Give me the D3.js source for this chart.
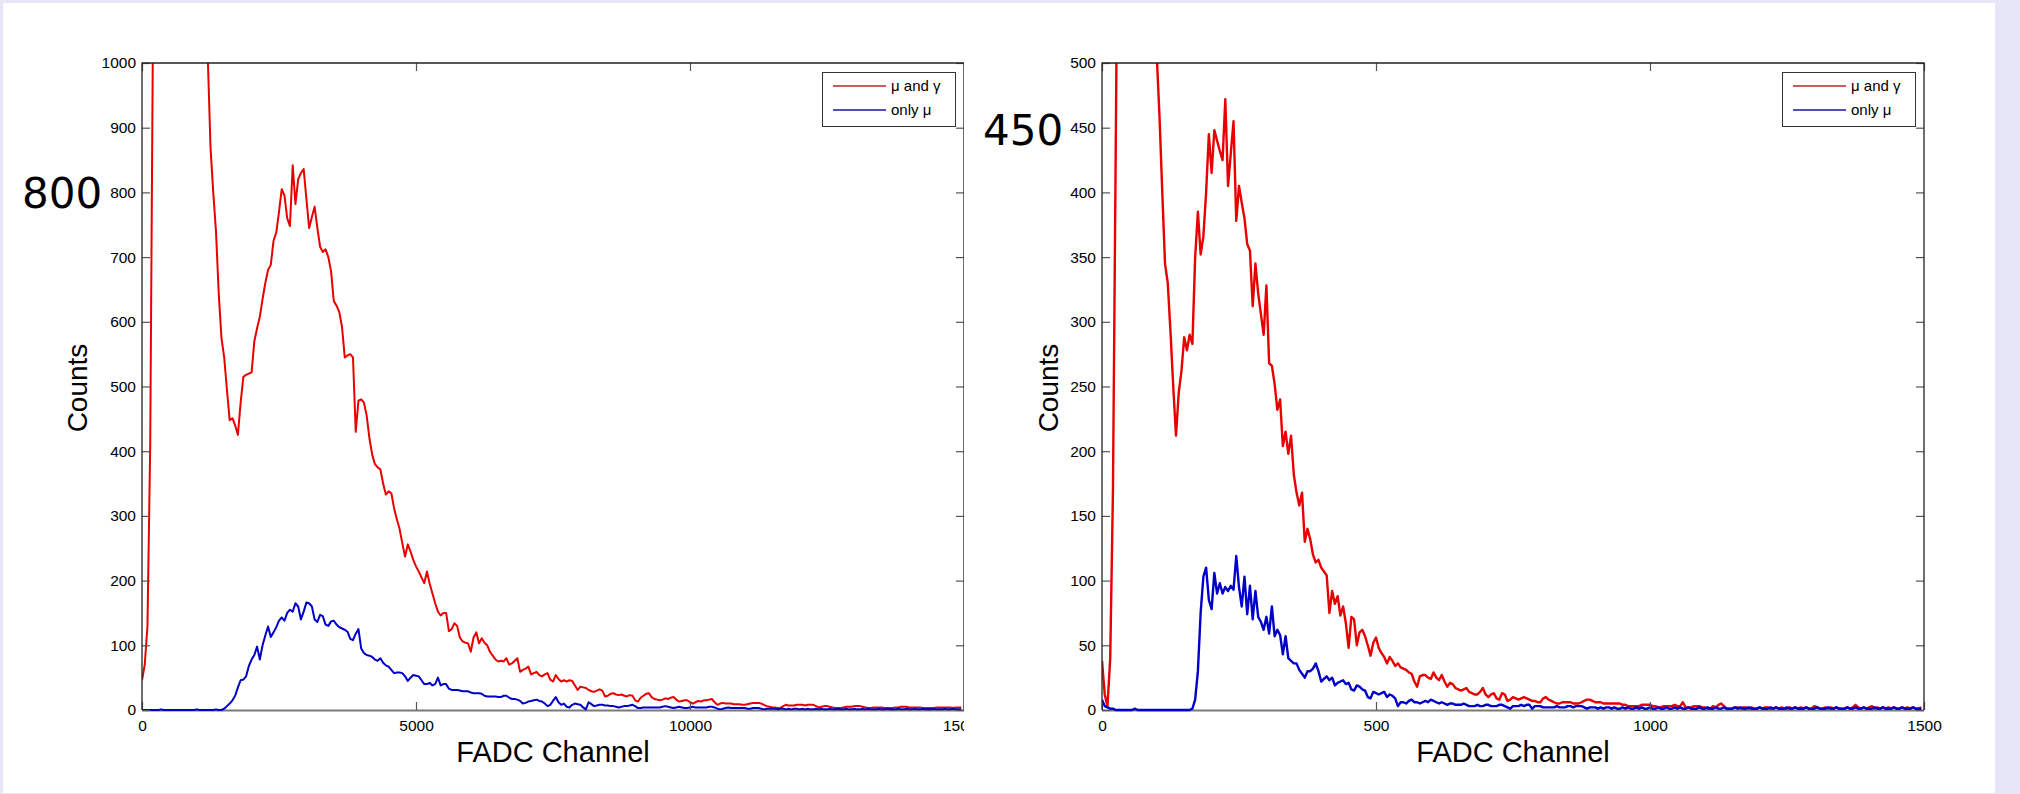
<!DOCTYPE html>
<html>
<head>
<meta charset="utf-8">
<script src="https://cdn.jsdelivr.net/npm/d3@7"></script>
<style>
  html, body { margin: 0; padding: 0; background: #e6e6f8; }
  svg { display: block; }
</style>
</head>
<body>
<svg id="chart" width="2020" height="794"></svg>
<script>
// ---- Spectrum A: FADC channel 0..15000, 50-channel bins ----
const fullBinStep = 50;
const fullMuGamma = [
  46,70,130,410,1050,1800,2600,3200,3500,3400,3200,2950,2700,2450,2250,2050,1900,1750,1600,1480,
  1360,1250,1150,1060,1010,870,800,740,644,575,545,495,448,451,440,425,475,515,518,520,
  522,570,590,608,635,660,680,688,725,738,770,805,795,760,748,842,782,820,830,836,
  790,745,762,778,745,716,708,712,700,678,632,625,615,592,545,548,550,545,430,478,
  480,475,455,420,395,380,375,372,350,333,338,335,312,295,280,258,237,256,245,232,
  222,214,205,196,214,195,180,165,152,146,150,150,122,125,134,130,112,106,104,103,
  90,112,120,103,111,104,100,90,84,78,75,76,75,80,70,72,76,80,59,62,
  64,67,55,57,59,54,52,55,57,47,44,54,48,44,46,44,46,45,38,31,
  36,35,34,31,29,28,30,32,30,21,22,25,26,24,23,24,22,21,23,22,
  15,13,19,22,25,26,20,17,16,15,16,18,17,19,20,16,13,14,15,15,
  12,10,12,14,13,15,15,16,17,12,8,10,11,10,10,10,9,9,9,8,
  8,9,10,11,11,11,10,8,6,5,4,4,3,3,6,8,7,7,7,8,
  8,8,7,8,8,8,6,4,5,6,6,5,4,3,3,3,4,5,5,5,
  6,6,6,5,4,3,3,4,4,4,4,3,3,3,3,4,4,5,5,5,
  4,4,4,4,4,3,3,3,3,3,4,4,4,4,4,4,3,4,4,4
];
const fullMuOnly = [
  0,0,0,0,0,0,0,1,0,0,0,0,0,0,0,0,0,0,0,0,
  1,0,0,0,0,0,0,1,0,0,2,6,10,15,22,35,46,47,52,68,
  78,85,98,78,100,115,129,113,120,128,138,143,138,150,155,152,165,160,140,152,
  166,165,160,140,136,147,145,132,130,137,138,132,128,126,124,121,110,108,118,125,
  95,88,85,84,82,78,76,80,73,69,67,62,57,58,58,57,52,45,50,54,
  53,52,46,40,40,42,38,40,50,38,40,40,33,31,31,31,30,29,29,29,
  27,26,26,26,25,22,21,21,21,21,20,20,22,22,19,17,17,16,14,10,
  11,13,14,15,16,14,13,10,6,8,14,20,12,8,10,5,4,8,10,9,
  8,4,1,12,9,6,7,8,8,7,7,6,6,5,4,5,6,6,7,8,
  6,3,3,4,4,4,4,4,4,4,5,6,5,4,3,4,5,4,3,3,
  4,5,4,4,4,4,4,5,5,4,2,1,2,3,4,3,3,3,3,3,
  3,2,2,3,3,3,2,1,2,2,2,2,1,2,2,1,2,1,2,2,
  1,2,1,2,1,1,2,1,2,1,1,2,1,1,2,1,1,2,1,1,
  2,1,1,2,1,2,1,1,1,2,1,1,2,1,1,1,2,1,1,2,
  1,1,2,1,1,2,1,1,1,2,1,1,1,2,1,1,2,1,1,1
];
const fullXTicks = [0, 5000, 10000, 15000];
const fullYTicks = [0, 100, 200, 300, 400, 500, 600, 700, 800, 900, 1000];

// ---- Spectrum B: FADC channel 0..1500, 5-channel bins ----
const zoomBinStep = 5;
const zoomMuGamma = [
  38,12,3,40,170,430,700,900,1000,1050,1050,1020,980,930,870,800,740,680,620,560,
  505,458,400,345,330,292,250,212,245,262,288,278,290,283,350,385,352,366,400,445,
  415,448,440,432,425,472,405,430,455,378,405,392,380,360,355,312,345,322,306,290,
  328,268,266,252,232,240,204,215,198,212,182,168,158,168,130,140,132,120,114,116,
  110,107,104,75,92,82,88,73,80,67,48,72,70,50,60,62,57,50,42,52,
  56,48,44,41,36,41,38,34,36,33,32,31,29,28,22,18,26,27,27,25,
  24,29,25,23,27,22,18,21,20,17,16,15,16,17,14,13,12,12,14,17,
  12,10,12,13,9,8,13,12,7,8,10,9,8,9,10,9,8,7,7,6,
  6,9,10,8,7,6,5,5,6,6,6,6,5,5,5,6,7,8,8,7,
  6,6,6,5,5,5,5,5,5,5,4,4,3,3,3,3,3,4,4,4,
  4,3,3,2,2,3,3,3,3,4,3,3,6,2,2,2,3,3,3,2,
  2,1,1,3,2,4,5,3,1,1,1,2,2,1,2,2,1,2,1,1,
  2,1,2,2,1,1,2,1,2,1,1,2,1,2,1,2,1,2,1,1,
  3,2,1,1,2,1,2,1,2,1,1,1,2,1,2,4,2,1,2,1,
  2,3,1,2,1,2,1,2,1,2,1,1,2,1,2,1,2,1,1,2
];
const zoomMuOnly = [
  8,3,2,1,1,0,0,0,0,0,0,0,1,0,0,0,0,0,0,0,
  0,0,0,0,0,0,0,0,0,0,0,0,0,1,8,30,75,103,110,85,
  78,106,90,98,90,95,92,96,93,119,95,80,103,74,96,70,92,72,68,62,
  72,59,80,57,62,58,43,57,40,38,36,36,31,28,25,30,30,32,36,30,
  22,24,26,23,25,19,21,22,23,20,21,16,15,19,18,16,15,10,9,14,
  13,12,13,14,10,12,11,9,3,6,6,5,7,8,6,6,5,6,7,6,
  8,7,6,5,6,5,4,5,5,4,4,4,5,4,3,3,3,4,3,3,
  4,4,3,3,3,4,4,3,2,1,3,3,3,4,3,4,4,1,3,3,
  3,2,2,2,2,2,3,2,2,2,3,3,2,3,3,3,2,1,2,2,
  2,1,2,1,2,2,1,2,1,1,2,1,2,1,1,2,1,2,1,1,
  2,1,1,2,1,1,2,1,1,2,1,2,1,1,2,1,1,1,2,1,
  1,2,1,1,2,1,1,2,1,1,1,2,1,2,1,1,2,1,1,1,
  2,1,1,1,2,1,2,1,1,1,2,1,1,2,1,1,1,2,1,1,
  1,2,1,1,1,2,1,1,2,1,1,1,2,1,1,2,1,1,2,1,
  1,1,2,1,1,2,1,1,1,2,1,1,2,1,1,1,2,1,1,1
];
const zoomXTicks = [0, 500, 1000, 1500];
const zoomYTicks = [0, 50, 100, 150, 200, 250, 300, 350, 400, 450, 500];

const seriesNames = ["\u03bc and \u03b3", "only \u03bc"];
const markLabels = ["800", "450"];

// ---- Drawing ----
const svg = d3.select("#chart");
const defs = svg.append("defs");
const FONT = "'Liberation Sans', Arial, Helvetica, sans-serif";
const RED = "#e80000", BLUE = "#0000c8";

svg.append("rect")
  .attr("x", 3).attr("y", 3).attr("width", 1992).attr("height", 790)
  .attr("fill", "#ffffff");

function drawPanel(p) {
  const outer = svg.append("g");
  if (p.clipRight) {
    defs.append("clipPath").attr("id", p.id + "-outer")
      .append("rect").attr("x", 0).attr("y", 0).attr("width", p.clipRight).attr("height", 794);
    outer.attr("clip-path", `url(#${p.id}-outer)`);
  }

  const x = d3.scaleLinear().domain(p.xDomain).range([p.left, p.right]);
  const y = d3.scaleLinear().domain(p.yDomain).range([p.bottom, p.top]);

  // zero line under the data
  outer.append("line")
    .attr("x1", p.left).attr("x2", p.right)
    .attr("y1", p.bottom + 0.5).attr("y2", p.bottom + 0.5)
    .attr("stroke", "#7a7a7a").attr("stroke-width", 2.2);

  defs.append("clipPath").attr("id", p.id + "-plot")
    .append("rect")
    .attr("x", p.left).attr("y", p.top)
    .attr("width", p.right - p.left).attr("height", p.bottom - p.top + 2);

  const plot = outer.append("g").attr("clip-path", `url(#${p.id}-plot)`);
  const channels = d3.range(p.muGamma.length).map(i => i * p.step);
  const line = d3.line()
    .x((d, i) => x(channels[i]))
    .y(d => y(d));

  plot.append("path").datum(p.muGamma)
    .attr("fill", "none").attr("stroke", RED).attr("stroke-width", p.lineWidth)
    .attr("stroke-linejoin", "round").attr("d", line);
  plot.append("path").datum(p.muOnly)
    .attr("fill", "none").attr("stroke", BLUE).attr("stroke-width", p.lineWidth)
    .attr("stroke-linejoin", "round").attr("d", line);

  // axes: inward ticks on all four sides
  const styleAxis = g => {
    g.select(".domain").remove();
    g.selectAll(".tick line").attr("stroke", "#555").attr("stroke-width", 1.2);
    g.selectAll("text").attr("fill", "#000").style("font-family", FONT).style("font-size", "15.5px");
  };
  outer.append("g").attr("transform", `translate(${p.left},0)`)
    .call(d3.axisLeft(y).tickValues(p.yTicks).tickSize(-8).tickPadding(6).tickFormat(d3.format("d")))
    .call(styleAxis);
  outer.append("g").attr("transform", `translate(${p.right},0)`)
    .call(d3.axisRight(y).tickValues(p.yTicks).tickSize(-8).tickFormat(""))
    .call(styleAxis);
  outer.append("g").attr("transform", `translate(0,${p.bottom})`)
    .call(d3.axisBottom(x).tickValues(p.xTicks).tickSize(-8).tickPadding(10).tickFormat(d3.format("d")))
    .call(styleAxis);
  outer.append("g").attr("transform", `translate(0,${p.top})`)
    .call(d3.axisTop(x).tickValues(p.xTicks).tickSize(-8).tickFormat(""))
    .call(styleAxis);

  // box
  outer.append("path")
    .attr("d", `M${p.left},${p.bottom}V${p.top}H${p.right}V${p.bottom}`)
    .attr("fill", "none").attr("stroke", "#222").attr("stroke-width", 1.3);

  // axis titles
  outer.append("text")
    .attr("transform", `translate(${p.yTitleX},388) rotate(-90)`)
    .attr("text-anchor", "middle")
    .style("font-family", FONT).style("font-size", "28px")
    .text("Counts");
  outer.append("text")
    .attr("x", (p.left + p.right) / 2).attr("y", 762)
    .attr("text-anchor", "middle")
    .style("font-family", FONT).style("font-size", "29px")
    .text("FADC Channel");

  // legend
  const lg = outer.append("g").attr("transform", `translate(${p.legendX},72)`);
  lg.append("rect").attr("x", 0.5).attr("y", 0.5).attr("width", 133).attr("height", 54)
    .attr("fill", "#fff").attr("stroke", "#333").attr("stroke-width", 1);
  const legendColors = ["#b42828", "#1414a0"];
  seriesNames.forEach((name, i) => {
    const ly = 14 + i * 24;
    lg.append("line").attr("x1", 11).attr("x2", 64).attr("y1", ly).attr("y2", ly)
      .attr("stroke", legendColors[i]).attr("stroke-width", 1.6);
    lg.append("text").attr("x", 69).attr("y", ly + 5)
      .style("font-family", FONT).style("font-size", "15px")
      .text(name);
  });
}

drawPanel({
  id: "full", left: 142, right: 964, top: 63, bottom: 710,
  xDomain: [0, 15000], yDomain: [0, 1000],
  xTicks: fullXTicks, yTicks: fullYTicks,
  step: fullBinStep, muGamma: fullMuGamma, muOnly: fullMuOnly, lineWidth: 2,
  yTitleX: 87, legendX: 822, clipRight: 964
});
drawPanel({
  id: "zoom", left: 1102, right: 1924, top: 63, bottom: 710,
  xDomain: [0, 1500], yDomain: [0, 500],
  xTicks: zoomXTicks, yTicks: zoomYTicks,
  step: zoomBinStep, muGamma: zoomMuGamma, muOnly: zoomMuOnly, lineWidth: 2.4,
  yTitleX: 1058, legendX: 1782, clipRight: null
});

// large marker labels beside the value axes
const bigFont = "'DejaVu Sans', 'Noto Sans', sans-serif";
svg.append("text").attr("x", 22).attr("y", 208)
  .style("font-family", bigFont).style("font-size", "42px").text(markLabels[0]);
svg.append("text").attr("x", 983).attr("y", 145)
  .style("font-family", bigFont).style("font-size", "42px").text(markLabels[1]);
</script>
</body>
</html>
